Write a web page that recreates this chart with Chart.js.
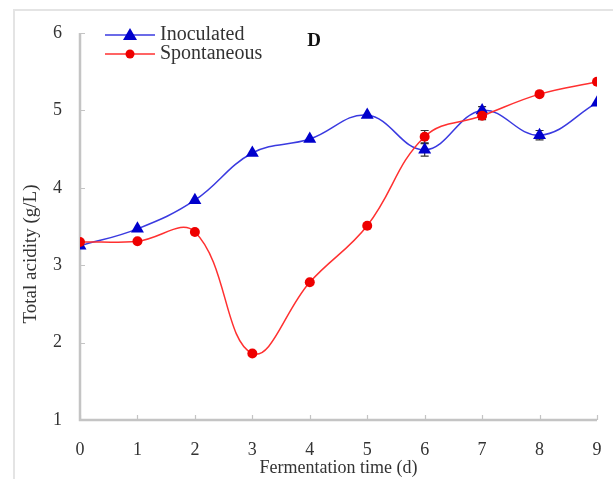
<!DOCTYPE html>
<html><head><meta charset="utf-8">
<script src="https://cdn.jsdelivr.net/npm/chart.js@4"></script>
<style>
html,body{margin:0;padding:0;background:#fff;}
#wrap{position:absolute;left:0;top:0;width:613px;height:479px;overflow:hidden;}
#frame{position:absolute;left:13px;top:9px;width:620px;height:480px;border-left:2px solid #e4e4e4;border-top:2px solid #e4e4e4;}
canvas{position:absolute;left:0;top:0;}
</style></head>
<body>
<div id="wrap"><div id="frame"></div><canvas id="c" width="613" height="479"></canvas></div>
<script>
const days = [0,1,2,3,4,5,6,7,8,9];
const inoculated = [3.25,3.47,3.84,4.45,4.63,4.94,4.49,5.00,4.68,5.10];
const inoculatedErr = [0,0,0,0,0,0,0.08,0.05,0.06,0];
const spontaneous = [3.30,3.31,3.43,1.86,2.78,3.51,4.66,4.93,5.21,5.37];
const spontaneousErr = [0,0,0,0,0,0,0.08,0.05,0,0];
const yTicks = [1,2,3,4,5,6];
const seriesNames = ['Inoculated','Spontaneous'];
const xTitle = 'Fermentation time (d)';
const yTitle = 'Total acidity (g/L)';
const panelLabel = 'D';

const serif = '"Liberation Serif","DejaVu Serif",serif';
const blue = '#0000cc', blueLine = '#3a3ae0';
const red = '#ee0000', redLine = '#ff3030';

const errPlugin = {
  id:'err',
  beforeDatasetsDraw(chart){
    const ctx = chart.ctx, xs = chart.scales.x, ys = chart.scales.y;
    ctx.save(); ctx.strokeStyle = '#333'; ctx.lineWidth = 1.2;
    [[inoculated,inoculatedErr],[spontaneous,spontaneousErr]].forEach(([v,e])=>{
      v.forEach((val,i)=>{
        if(!e[i]) return;
        const x = xs.getPixelForValue(days[i]);
        const y1 = ys.getPixelForValue(val+e[i]), y2 = ys.getPixelForValue(val-e[i]);
        ctx.beginPath();
        ctx.moveTo(x,y1);ctx.lineTo(x,y2);
        ctx.moveTo(x-4,y1);ctx.lineTo(x+4,y1);
        ctx.moveTo(x-4,y2);ctx.lineTo(x+4,y2);
        ctx.stroke();
      });
    });
    ctx.restore();
  }
};
const axesPlugin = {
  id:'axesInner',
  beforeDatasetsDraw(chart){
    const ctx = chart.ctx, xs = chart.scales.x, ys = chart.scales.y, a = chart.chartArea;
    ctx.save(); ctx.strokeStyle = '#c4c4c4'; ctx.lineWidth = 1.2;
    ctx.beginPath();
    days.forEach(d=>{const x = Math.round(xs.getPixelForValue(d))+0.5; ctx.moveTo(x,a.bottom); ctx.lineTo(x,a.bottom-5);});
    yTicks.forEach(t=>{const y = Math.round(ys.getPixelForValue(t))+0.5; ctx.moveTo(a.left,y); ctx.lineTo(a.left+5,y);});
    ctx.stroke();
    ctx.lineWidth = 2.5;
    ctx.beginPath();
    ctx.moveTo(a.left, a.top); ctx.lineTo(a.left, a.bottom); ctx.lineTo(a.right, a.bottom);
    ctx.stroke();
    ctx.restore();
  },
  afterDraw(chart){
    const ctx = chart.ctx;
    ctx.save();
    const items = [[seriesNames[0],blueLine,blue,'triangle',35],[seriesNames[1],redLine,red,'circle',54]];
    items.forEach(([name,lc,pc,ps,y])=>{
      ctx.strokeStyle = lc; ctx.lineWidth = 1.5;
      ctx.beginPath(); ctx.moveTo(105,y); ctx.lineTo(155,y); ctx.stroke();
      ctx.fillStyle = pc;
      ctx.beginPath();
      if(ps==='triangle'){ctx.moveTo(130,y-7);ctx.lineTo(137,y+5);ctx.lineTo(123,y+5);ctx.closePath();}
      else {ctx.arc(130,y,4.5,0,Math.PI*2);}
      ctx.fill();
      ctx.fillStyle = '#333'; ctx.font = '20px '+serif; ctx.textBaseline='middle'; ctx.textAlign='left';
      ctx.fillText(name,160,y);
    });
    ctx.font = 'bold 19px '+serif; ctx.fillStyle='#111'; ctx.textAlign='center'; ctx.textBaseline='middle';
    ctx.fillText(panelLabel,314,41);
    ctx.translate(31,254); ctx.rotate(-Math.PI/2);
    ctx.font = '19px '+serif; ctx.fillStyle='#333'; ctx.textAlign='center'; ctx.textBaseline='middle';
    ctx.fillText(yTitle,0,0);
    ctx.restore();
  }
};

new Chart(document.getElementById('c'),{
  type:'line',
  data:{datasets:[
    {label:seriesNames[1],data:days.map((d,i)=>({x:d,y:spontaneous[i]})),borderColor:redLine,backgroundColor:red,
     borderWidth:1.5,pointStyle:'circle',pointRadius:5,pointBorderWidth:0,tension:0.4,order:0},
    {label:seriesNames[0],data:days.map((d,i)=>({x:d,y:inoculated[i]})),borderColor:blueLine,backgroundColor:blue,
     borderWidth:1.5,pointStyle:'triangle',pointRadius:7.5,pointBorderWidth:0,tension:0.4,order:1}
  ]},
  options:{
    responsive:false,animation:false,
    layout:{padding:{left:0,top:33,right:16,bottom:0}},
    plugins:{legend:{display:false},tooltip:{enabled:false}},
    scales:{
      x:{type:'linear',min:0,max:9,
        grid:{display:false,drawTicks:false},border:{display:false},
        ticks:{stepSize:1,padding:19,color:'#333',font:{family:serif,size:18},maxRotation:0},
        title:{display:true,text:xTitle,color:'#333',font:{family:serif,size:18},padding:{top:0,bottom:0}},
        afterFit(s){s.height=59;s.paddingLeft=0;s.paddingRight=0;}
      },
      y:{type:'linear',min:1,max:6,
        grid:{display:false,drawTicks:false},border:{display:false},
        ticks:{stepSize:1,padding:18,color:'#333',font:{family:serif,size:18}},
        afterFit(s){s.width=80;s.paddingTop=0;s.paddingBottom=0;}
      }
    }
  },
  plugins:[axesPlugin,errPlugin]
});
</script>
</body></html>
